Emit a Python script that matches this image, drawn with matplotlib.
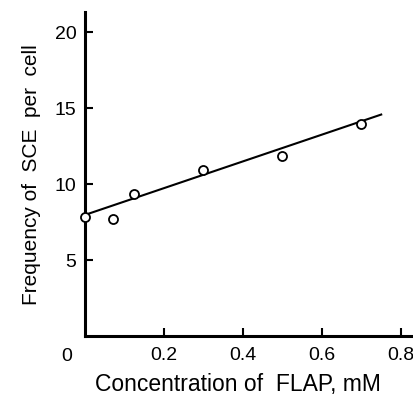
"""Frequency of SCE per cell vs FLAP concentration."""

import matplotlib
matplotlib.use("Agg")
import matplotlib.pyplot as plt
import numpy as np

plt.rcParams["font.family"] = ["Liberation Sans", "DejaVu Sans"]

# data
conc = [0.0, 0.07, 0.125, 0.30, 0.50, 0.70]
sce = [7.8, 7.7, 9.3, 10.9, 11.8, 13.9]

# fitted line
fit_intercept = 7.95
fit_slope = 8.8
fit_range = [0.0, 0.75]

xticks = [0.2, 0.4, 0.6, 0.8]
yticks = [5, 10, 15, 20]


def main() -> None:
    fig = plt.figure(figsize=(4.14, 4.02), dpi=100)
    ax = fig.add_axes([0.205, 0.162, 0.795, 0.806])
    ax.set_xlim(0, 0.833)
    ax.set_ylim(0, 21.3)

    fx = np.array(fit_range)
    ax.plot(fx, fit_intercept + fit_slope * fx, color="black", lw=1.5, zorder=2)
    ax.plot(conc, sce, "o", mfc="white", mec="black", mew=1.3, ms=6.5,
            clip_on=False, zorder=3)

    for side in ("top", "right"):
        ax.spines[side].set_visible(False)
    for side in ("left", "bottom"):
        ax.spines[side].set_linewidth(2.2)

    ax.set_xticks(xticks)
    ax.set_xticklabels([f"{t:.1f}" for t in xticks])
    ax.set_yticks(yticks)
    ax.tick_params(direction="in", length=6, width=1.5, labelsize=14)
    ax.tick_params(axis="x", pad=7)
    ax.tick_params(axis="y", pad=6)
    ax.text(-0.046, -0.75, "0", ha="center", va="top", fontsize=14)

    ax.set_xlabel("Concentration of  FLAP, mM", fontsize=16.5)
    ax.xaxis.set_label_coords(0.465, -0.112)
    ax.set_ylabel("Frequency of  SCE  per  cell", fontsize=15, labelpad=10)

    fig.savefig("out.png", dpi=100)
    plt.close(fig)


if __name__ == "__main__":
    main()
